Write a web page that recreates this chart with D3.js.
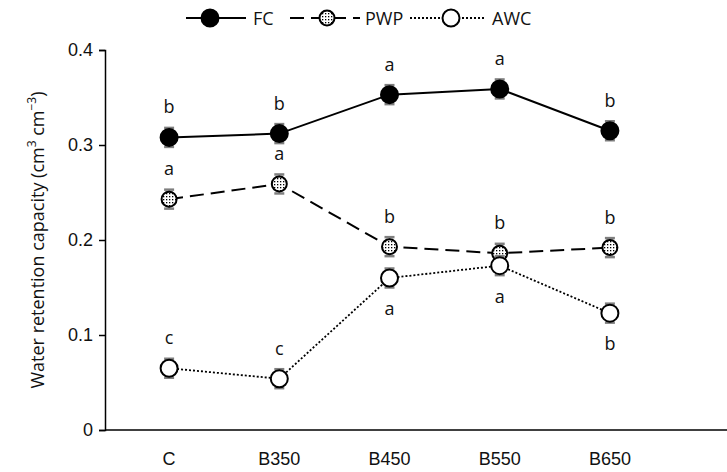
<!DOCTYPE html>
<html>
<head>
<meta charset="utf-8">
<script src="https://cdn.jsdelivr.net/npm/d3@7"></script>
<style>
  html, body { margin: 0; padding: 0; background: #fff; }
  svg { display: block; font-family: "Open Sans", "Noto Sans", sans-serif; }
</style>
</head>
<body>
<svg id="chart" width="727" height="472"></svg>
<script>
// Treatments along the x axis
const categories = ["C", "B350", "B450", "B550", "B650"];

// Field capacity, permanent wilting point, available water capacity (cm3 cm-3)
const fcValues  = [0.308, 0.312, 0.353, 0.359, 0.315];
const pwpValues = [0.243, 0.259, 0.193, 0.186, 0.192];
const awcValues = [0.065, 0.054, 0.160, 0.173, 0.123];

// Standard errors
const fcErr  = [0.010, 0.010, 0.010, 0.010, 0.010];
const pwpErr = [0.010, 0.010, 0.010, 0.010, 0.010];
const awcErr = [0.010, 0.010, 0.010, 0.010, 0.010];

// Significance letters
const fcLetters  = ["b", "b", "a", "a", "b"];
const pwpLetters = ["a", "a", "b", "b", "b"];
const awcLetters = ["c", "c", "a", "a", "b"];
// Letter placement: above or below the point
const awcLetterPos = ["above", "above", "below", "below", "below"];

const yTicks = [0, 0.1, 0.2, 0.3, 0.4];
const seriesNames = ["FC", "PWP", "AWC"];

const svg = d3.select("#chart");
const axisLeft = 105, axisBottom = 430, axisTop = 50;

const x = d3.scaleBand().domain(categories).range([114, 665]).padding(0);
const y = d3.scaleLinear().domain([0, 0.4]).range([axisBottom, axisTop]);
const cx = c => x(c) + x.bandwidth() / 2;

// Stipple pattern used for PWP markers
const defs = svg.append("defs");
const pat = defs.append("pattern").attr("id", "stipple")
  .attr("width", 3).attr("height", 3).attr("patternUnits", "userSpaceOnUse");
pat.append("rect").attr("width", 3).attr("height", 3).attr("fill", "#fff");
pat.append("rect").attr("x", 1).attr("y", 1).attr("width", 1.3).attr("height", 1.3).attr("fill", "#000");

// Axes
const yAxis = d3.axisLeft(y).tickValues(yTicks).tickSize(6).tickPadding(6)
  .tickFormat(d => d === 0 ? "0" : d3.format(".1f")(d));
const gy = svg.append("g").attr("transform", `translate(${axisLeft},0)`).call(yAxis);
gy.select(".domain").attr("stroke", "#000").attr("stroke-width", 1.5);
gy.selectAll(".tick line").attr("stroke", "#000").attr("stroke-width", 1.5);
gy.selectAll(".tick text").attr("font-size", 18).attr("fill", "#111");

const xAxis = d3.axisBottom(x).tickSize(0).tickPadding(22);
const gx = svg.append("g").attr("transform", `translate(0,${axisBottom})`).call(xAxis);
gx.select(".domain").attr("d", `M${axisLeft},0H727`).attr("stroke", "#000").attr("stroke-width", 1.5);
gx.selectAll(".tick text").attr("font-size", 18).attr("fill", "#111");

// Y axis title
const yTitle = svg.append("text")
  .attr("transform", `translate(44,${(axisTop + axisBottom) / 2}) rotate(-90)`)
  .attr("text-anchor", "middle").attr("font-size", 18).attr("fill", "#111");
yTitle.append("tspan").text("Water retention capacity (cm");
yTitle.append("tspan").attr("baseline-shift", "super").attr("font-size", 12).text("3");
yTitle.append("tspan").text(" cm");
yTitle.append("tspan").attr("baseline-shift", "super").attr("font-size", 12).text("−3");
yTitle.append("tspan").text(")");

const series = [
  { name: "FC",  vals: fcValues,  err: fcErr,  letters: fcLetters,  pos: categories.map(() => "above"),
    dash: null, width: 2, r: 8.5, fill: "#000" },
  { name: "PWP", vals: pwpValues, err: pwpErr, letters: pwpLetters, pos: categories.map(() => "above"),
    dash: "14,7", width: 2, r: 7.5, fill: "url(#stipple)" },
  { name: "AWC", vals: awcValues, err: awcErr, letters: awcLetters, pos: awcLetterPos,
    dash: "2,2", width: 1.8, r: 8.5, fill: "#fff" }
];

const line = d3.line().x((d, i) => cx(categories[i])).y(d => y(d));

series.forEach(s => {
  svg.append("path").datum(s.vals)
    .attr("d", line).attr("fill", "none").attr("stroke", "#000")
    .attr("stroke-width", s.width).attr("stroke-dasharray", s.dash);
});

series.forEach(s => {
  const g = svg.append("g");
  // error bars
  s.vals.forEach((v, i) => {
    const px = cx(categories[i]);
    const y1 = y(v + s.err[i]), y2 = y(v - s.err[i]);
    g.append("line").attr("x1", px).attr("x2", px).attr("y1", y1).attr("y2", y2)
      .attr("stroke", "#7f7f7f").attr("stroke-width", 1.5);
    [y1, y2].forEach(yy => g.append("line").attr("x1", px - 5).attr("x2", px + 5)
      .attr("y1", yy).attr("y2", yy).attr("stroke", "#7f7f7f").attr("stroke-width", 2.5));
  });
  // markers
  g.selectAll("circle").data(s.vals).join("circle")
    .attr("cx", (d, i) => cx(categories[i])).attr("cy", d => y(d)).attr("r", s.r)
    .attr("fill", s.fill).attr("stroke", "#000").attr("stroke-width", 2);
  // letters
  g.selectAll("text.letter").data(s.vals).join("text").attr("class", "letter")
    .attr("x", (d, i) => cx(categories[i]))
    .attr("y", (d, i) => s.pos[i] === "above" ? y(d) - 24 : y(d) + 37)
    .attr("text-anchor", "middle").attr("font-size", 18).attr("fill", "#111")
    .text((d, i) => s.letters[i]);
});

// Legend
const legendY = 18;
const legendItems = [
  { s: series[0], x1: 186, xm: 210, x2: 246, tx: 253 },
  { s: series[1], x1: 290, xm: 327, x2: 360, tx: 365 },
  { s: series[2], x1: 410, xm: 451, x2: 484, tx: 492 }
];
legendItems.forEach(it => {
  const g = svg.append("g");
  g.append("line").attr("x1", it.x1).attr("x2", it.x2).attr("y1", legendY).attr("y2", legendY)
    .attr("stroke", "#000").attr("stroke-width", it.s.width).attr("stroke-dasharray", it.s.dash);
  g.append("circle").attr("cx", it.xm).attr("cy", legendY).attr("r", it.s.r)
    .attr("fill", it.s.fill).attr("stroke", "#000").attr("stroke-width", 2);
  g.append("text").attr("x", it.tx).attr("y", legendY + 6.5).attr("font-size", 18).attr("fill", "#111")
    .text(it.s.name);
});
</script>
</body>
</html>
